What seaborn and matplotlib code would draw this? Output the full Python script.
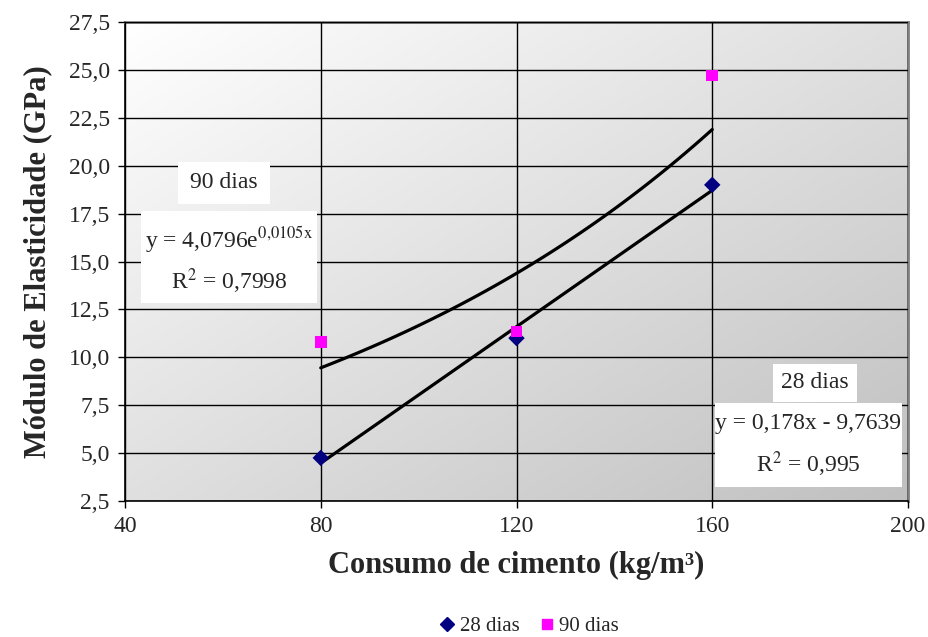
import numpy as np
import pandas as pd
import matplotlib
matplotlib.use("Agg")
import matplotlib.pyplot as plt
import seaborn as sns
from matplotlib.lines import Line2D

# ---- data ----
consumo = [80, 120, 160]
e28 = [4.75, 11.0, 19.0]
e90 = [10.8, 11.35, 24.7]
series_names = ["28 dias", "90 dias"]
lin_a, lin_b = 0.178, -9.7639          # y = a x + b  (28 dias)
exp_a, exp_k = 4.0796, 0.0105          # y = a e^(k x) (90 dias)
xticks = [40, 80, 120, 160, 200]
yticks = [2.5, 5.0, 7.5, 10.0, 12.5, 15.0, 17.5, 20.0, 22.5, 25.0, 27.5]

sns.set_style("white")
plt.rcParams['font.family'] = ['Liberation Serif', 'DejaVu Serif']

fig = plt.figure(figsize=(9.29, 6.37), dpi=100)
ax = fig.add_axes([125/929, 1-501/637, (908-125)/929, (501-22)/637])

# gradient background (white top-left -> grey bottom-right)
n = 200
u = np.linspace(0, 1, n)
U, V = np.meshgrid(u, u)
g = (255 - 63*(U+V)/2)/255.0
img = np.dstack([g, g, g])
ax.imshow(img, extent=[0, 1, 0, 1], origin='upper', transform=ax.transAxes,
          aspect='auto', zorder=0)

ax.set_xlim(40, 200)
ax.set_ylim(2.5, 27.5)
ax.set_xticks(xticks)
ax.set_yticks(yticks)
ax.set_xticklabels([str(t) for t in xticks], fontsize=17)
ax.set_yticklabels([f"{t:.1f}".replace('.', ',') for t in yticks], fontsize=17)
ax.grid(True, color='black', linewidth=1.0, zorder=1)
ax.set_axisbelow(False)
for sp in ['left', 'bottom']:
    ax.spines[sp].set_color('black'); ax.spines[sp].set_linewidth(1.2)
for sp in ['top', 'right']:
    ax.spines[sp].set_color('#808080'); ax.spines[sp].set_linewidth(2)
ax.tick_params(axis='both', direction='out', length=5, width=1, color='black', pad=6, left=True, bottom=True)

# trendlines
xs = np.linspace(80, 160, 100)
ax.plot(xs, lin_a*xs + lin_b, color='black', lw=2.3, zorder=3)
ax.plot(xs, exp_a*np.exp(exp_k*xs), color='black', lw=2.3, zorder=3)

df = pd.DataFrame({
    "x": consumo*2,
    "y": e28 + e90,
    "serie": [series_names[0]]*3 + [series_names[1]]*3,
})
sns.scatterplot(data=df, x="x", y="y", hue="serie", style="serie",
                palette={"28 dias": "#000080", "90 dias": "#FF00FF"},
                markers={"28 dias": "D", "90 dias": "s"},
                s=70, edgecolor='none', ax=ax, legend=False, zorder=4, clip_on=False)

ax.set_xlabel("Consumo de cimento (kg/m³)", fontsize=22, fontweight='bold', labelpad=10)
ax.set_ylabel("Módulo de Elasticidade (GPa)", fontsize=22, fontweight='bold', labelpad=12)

# annotation boxes
def box(x0, y0, x1, y1):
    fig.patches.append(plt.Rectangle((x0/929, 1-y1/637), (x1-x0)/929, (y1-y0)/637,
                                     transform=fig.transFigure, facecolor='white',
                                     edgecolor='none', zorder=5))
box(178, 162, 270, 204)
box(141, 211, 317, 303)
box(773, 364, 857, 402)
box(715, 403, 902, 487)
ts = 17
fig.text(224/929, 1-183/637, "90 dias", ha='center', va='center', fontsize=ts, zorder=6)
fig.text(229/929, 1-240/637, r"y = 4,0796e$^{\mathrm{0{,}0105x}}$", ha='center', va='center',
         fontsize=ts, zorder=6, math_fontfamily='stix')
fig.text(229/929, 1-281/637, r"R$^{2}$ = 0,7998", ha='center', va='center', fontsize=ts, zorder=6,
         math_fontfamily='stix')
fig.text(815/929, 1-383/637, "28 dias", ha='center', va='center', fontsize=ts, zorder=6)
fig.text(808/929, 1-424/637, "y = 0,178x - 9,7639", ha='center', va='center', fontsize=ts, zorder=6)
fig.text(808/929, 1-464/637, r"R$^{2}$ = 0,995", ha='center', va='center', fontsize=ts, zorder=6,
         math_fontfamily='stix')

handles = [Line2D([], [], marker='D', color='#000080', ls='none', markersize=7),
           Line2D([], [], marker='s', color='#FF00FF', ls='none', markersize=7)]
fig.legend(handles, series_names, loc='center', bbox_to_anchor=(528/929, 1-626/637),
           ncol=2, frameon=False, fontsize=15, handletextpad=0.1, columnspacing=0.8,
           handlelength=1.0)

fig.savefig("out.png", dpi=100)
